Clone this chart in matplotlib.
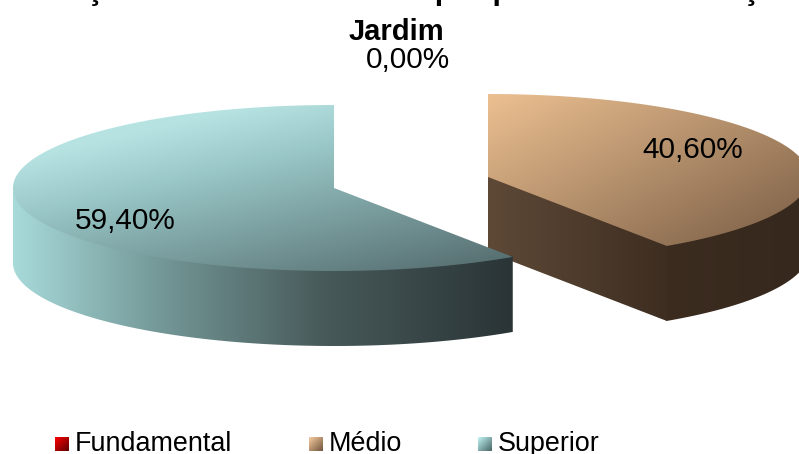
#!/usr/bin/env python3
"""3D-looking exploded pie: docentes by schooling level, Jardim."""
import matplotlib
matplotlib.use("Agg")
import matplotlib.pyplot as plt
import numpy as np
from matplotlib.patches import Polygon

plt.rcParams["font.family"] = ["Liberation Sans", "DejaVu Sans"]

categories = ["Fundamental", "Médio", "Superior"]
values = [0.0, 40.6, 59.4]
value_labels = ["0,00%", "40,60%", "59,40%"]
title_lines = ["Formações docentes da Rede por período de formação", "Jardim"]

RX, RY, DEPTH = 321, 83, 75
CENTER_MEDIO = (488, 177)
CENTER_SUPERIOR = (334, 188)


def rim(center, t0, t1, n=200):
    # angles in degrees, clockwise from 12 o'clock
    t = np.radians(np.linspace(t0, t1, n))
    return np.column_stack([center[0] + RX * np.sin(t), center[1] - RY * np.cos(t)])


def extrude(edge):
    # wall under a rim, upper edge tucked under the top face so no seam shows
    return np.vstack([edge + [0, -1.5], (edge + [0, DEPTH])[::-1]])


def gradient(ax, pts, c0, c1, angle=0.0, stops=None):
    # fill polygon pts with a linear gradient running at angle (deg, y down)
    x0, y0 = pts.min(axis=0)
    x1, y1 = pts.max(axis=0)
    xx, yy = np.meshgrid(np.linspace(0, 1, 200), np.linspace(0, 1, 200))
    a = np.radians(angle)
    w = xx * np.cos(a) + yy * np.sin(a)
    w = (w - w.min()) / (w.max() - w.min())
    if stops is None:
        stops = [0, 1]
        cols = [c0, c1]
    else:
        cols = [c0] + stops[1] + [c1]
        stops = stops[0]
    img = np.dstack([np.interp(w, stops, [c[i] / 255 for c in cols]) for i in range(3)])
    im = ax.imshow(img, extent=(x0, x1, y1, y0), aspect="auto",
                   interpolation="bilinear", zorder=ax.zo)
    ax.zo += 1
    im.set_clip_path(Polygon(pts, closed=True, transform=ax.transData))


fig = plt.figure(figsize=(7.99, 4.54), dpi=100)
ax = fig.add_axes([0, 0, 1, 1])
ax.zo = 1
ax.axis("off")

start = values[0] * 3.6
end_medio = start + values[1] * 3.6
span_superior = values[2] * 3.6

# Médio first, Superior overlaps its corner
top_rim = rim(CENTER_MEDIO, start, end_medio)
top = np.vstack([[CENTER_MEDIO], top_rim])
tip = top_rim[-1]
side = extrude(rim(CENTER_MEDIO, 90, end_medio + 0.2))
gradient(ax, side, (60, 44, 32), (54, 40, 29), 0)
cut = extrude(np.array([CENTER_MEDIO, tip], dtype=float))
gradient(ax, cut, (94, 73, 55), (62, 46, 33), 0)
gradient(ax, top, (236, 192, 145), (120, 92, 68), 42)

# Superior
top_rim = rim(CENTER_SUPERIOR, -span_superior, 0)
top = np.vstack([[CENTER_SUPERIOR], top_rim])
side = extrude(rim(CENTER_SUPERIOR, -span_superior, -90))
gradient(ax, side, (42, 52, 54), (168, 218, 218), 180,
         stops=([0, 0.38, 0.7, 1], [[72, 90, 90], [115, 150, 150]]))
gradient(ax, top, (188, 232, 232), (80, 104, 106), 55,
         stops=([0, 0.2, 0.41, 0.92, 1], [[182, 226, 226], [152, 197, 197], [92, 118, 120]]))

# value labels
ax.text(408, 60, value_labels[0], fontsize=21.4, ha="center", va="center", zorder=50)
ax.text(693, 150, value_labels[1], fontsize=21.4, ha="center", va="center", zorder=50)
ax.text(125, 221, value_labels[2], fontsize=21.4, ha="center", va="center", zorder=50)

# title, first line runs off the top of the picture
ax.text(-7, -0.5, title_lines[0], fontsize=22, fontweight="bold", ha="left",
        va="baseline", zorder=50)
ax.text(396, 40, title_lines[1], fontsize=21, fontweight="bold", ha="center",
        va="baseline", zorder=50)

# legend
swatches = [((255, 0, 0), (90, 0, 0)), ((250, 205, 160), (110, 85, 60)),
            ((195, 245, 245), (70, 100, 100))]
for name, (c0, c1), sx, tx in zip(categories, swatches, [55, 309, 478], [75, 329, 498]):
    box = np.array([[sx, 437], [sx + 14, 437], [sx + 14, 451], [sx, 451]])
    gradient(ax, box, c0, c1, 45)
    ax.text(tx, 451, name, fontsize=19.4, ha="left", va="baseline", zorder=50)

ax.set_xlim(0, 799)
ax.set_ylim(454, 0)
fig.savefig("out.png", dpi=100)
